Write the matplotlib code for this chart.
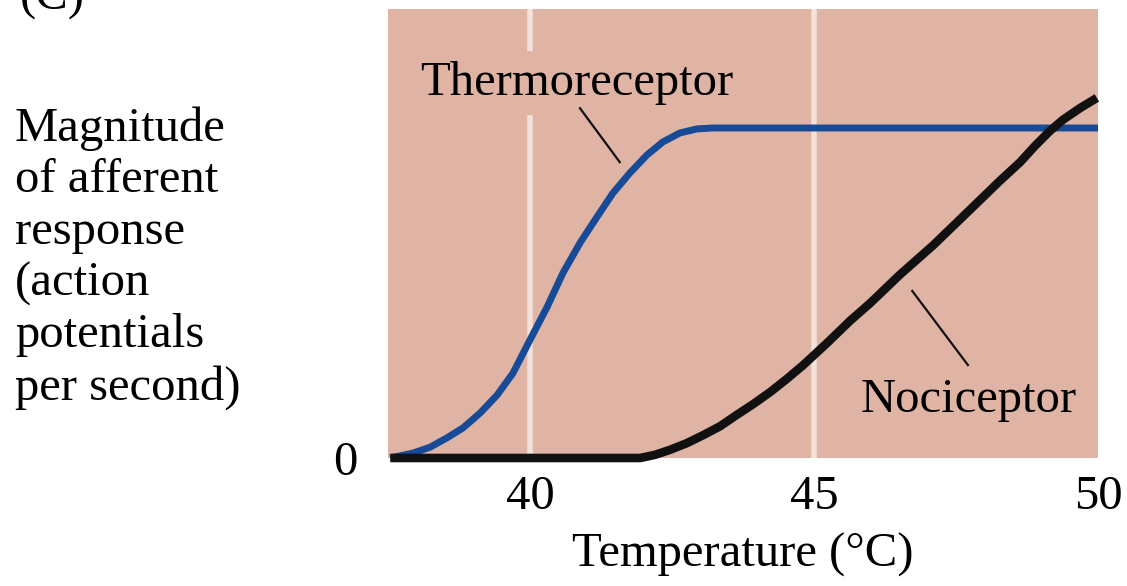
import matplotlib.pyplot as plt

# temperature (deg C) and response (arbitrary units, 0-100)
thermo_temp = [37.54, 37.94, 38.24, 38.54, 38.82, 39.12, 39.42, 39.70, 40.00,
               40.30, 40.58, 40.88, 41.18, 41.46, 41.76, 42.06, 42.34, 42.64,
               42.94, 43.22, 50.0]
thermo_resp = [0.0, 1.1, 2.4, 4.5, 6.7, 10.0, 14.0, 18.9, 26.3,
               33.6, 41.2, 47.9, 53.7, 59.0, 63.5, 67.5, 70.4, 72.4,
               73.3, 73.5, 73.5]

noci_temp = [37.54, 41.94, 42.20, 42.46, 42.76, 43.05, 43.35, 43.64, 43.93,
             44.23, 44.52, 44.81, 45.23, 45.63, 45.99, 46.51, 47.10, 47.69,
             48.27, 48.63, 48.89, 49.15, 49.38, 49.68, 49.98]
noci_resp = [0.0, 0.0, 0.7, 1.8, 3.3, 5.1, 7.1, 9.6, 12.0,
             14.7, 17.6, 20.7, 25.6, 30.5, 34.5, 40.8, 47.4, 54.6,
             61.7, 65.9, 69.5, 72.8, 75.3, 77.9, 80.2]

x_ticks = [40, 45, 50]
x_ticklabels = ['40', '45', '50']

plt.rcParams['font.family'] = ['Liberation Serif', 'DejaVu Serif']
fs = 35

fig = plt.figure(figsize=(11.27, 5.86), dpi=100)
ax = fig.add_axes([388 / 1127, 1 - 458 / 586, 710 / 1127, 449 / 586])
ax.set_facecolor('#e0b4a4')
for s in ax.spines.values():
    s.set_visible(False)

ax.set_xlim(37.5, 50)
ax.set_ylim(0, 100)

# pale vertical guide lines
for t in x_ticks[:2]:
    ax.axvline(t, color='#f3e2da', lw=4, zorder=1)

ax.plot(thermo_temp, thermo_resp, color='#174b98', lw=5, zorder=5,
        solid_capstyle='butt', solid_joinstyle='round', clip_on=False)
ax.plot(noci_temp, noci_resp, color='#111111', lw=6.2, zorder=6,
        solid_capstyle='butt', solid_joinstyle='round', clip_on=False)

# labels with leader lines
ax.text(40.83, 80.8, 'Thermoreceptor', ha='center', va='baseline', fontsize=fs,
        zorder=3, bbox=dict(facecolor='#e0b4a4', edgecolor='none', pad=7))
ax.plot([40.88, 41.58], [77.9, 65.9], color='#111111', lw=1.6, zorder=4)
ax.text(47.73, 10.2, 'Nociceptor', ha='center', va='baseline', fontsize=fs, zorder=3)
ax.plot([46.73, 47.71], [37.2, 20.7], color='#111111', lw=1.6, zorder=4)

ax.set_xticks(x_ticks)
ax.set_xticklabels(x_ticklabels)
ax.set_yticks([0])
ax.set_yticklabels(['0'])
ax.tick_params(axis='both', length=0, labelsize=fs)
ax.tick_params(axis='x', pad=12)
ax.tick_params(axis='y', pad=22)

ax.set_xlabel('Temperature (°C)', fontsize=fs, labelpad=10)

fig.text(15 / 1127, 1 - 258 / 586,
         'Magnitude\nof afferent\nresponse\n(action\npotentials\nper second)',
         ha='left', va='center', fontsize=fs, linespacing=1.22)
fig.text(20 / 1127, 1 - 10 / 586, '(C)', ha='left', va='baseline', fontsize=fs)

fig.savefig('out.png', dpi=100)
